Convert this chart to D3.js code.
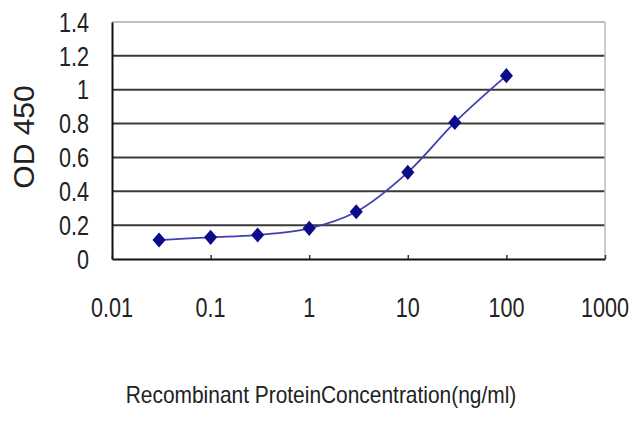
<!DOCTYPE html>
<html><head><meta charset="utf-8">
<script src="https://cdn.jsdelivr.net/npm/d3@7"></script>
<style>
html,body{margin:0;padding:0;background:#fff;}
svg{display:block;}
text{font-family:"Liberation Sans",Arial,sans-serif;fill:#222;}
</style></head>
<body>
<svg id="c" width="640" height="427"></svg>
<script>
// Data
const concentrations = [0.03, 0.1, 0.3, 1, 3, 10, 30, 100];
const odValues = [0.112, 0.128, 0.142, 0.181, 0.279, 0.512, 0.807, 1.083];
const xTicks = [0.01, 0.1, 1, 10, 100, 1000];
const xTickLabels = ["0.01", "0.1", "1", "10", "100", "1000"];
const yTicks = [0, 0.2, 0.4, 0.6, 0.8, 1, 1.2, 1.4];
const yTickLabels = ["0", "0.2", "0.4", "0.6", "0.8", "1", "1.2", "1.4"];
const xTitle = "Recombinant ProteinConcentration(ng/ml)";
const yTitle = "OD 450";

const svg = d3.select("#c");
const L = 112, R = 605, T = 22, B = 259;
const x = d3.scaleLog().domain([0.01, 1000]).range([L, R]);
const y = d3.scaleLinear().domain([0, 1.4]).range([B, T]);

// gridlines
svg.append("g").selectAll("line").data(yTicks.filter(d => d > 0)).join("line")
  .attr("x1", L).attr("x2", R).attr("y1", d => y(d)).attr("y2", d => y(d))
  .attr("stroke", d => d === 1.4 ? "#aaa" : "#3a3a3a").attr("stroke-width", d => d === 1.4 ? 1.5 : 2);
// right border
svg.append("line").attr("x1", R).attr("x2", R).attr("y1", T).attr("y2", B)
  .attr("stroke", "#bbb").attr("stroke-width", 1.5);

// axes
const xAxis = d3.axisBottom(x).tickValues(xTicks).tickFormat("").tickSizeInner(-4).tickSizeOuter(0);
const gx = svg.append("g").attr("transform", `translate(0,${B})`).call(xAxis);
gx.select(".domain").attr("stroke", "#111").attr("stroke-width", 2);
gx.selectAll(".tick line").attr("stroke", "#333").attr("stroke-width", 1.5);

const yAxis = d3.axisLeft(y).tickValues(yTicks).tickFormat("").tickSize(0);
const gy = svg.append("g").attr("transform", `translate(${L},0)`).call(yAxis);
gy.select(".domain").attr("stroke", "#111").attr("stroke-width", 2);

// y tick labels (condensed look)
svg.append("g").selectAll("text").data(yTicks).join("text")
  .attr("transform", d => `translate(89,${y(d)}) scale(0.8,1)`)
  .attr("text-anchor", "end").attr("dy", "0.36em")
  .attr("font-size", 27)
  .text((d, i) => yTickLabels[i]);

// x tick labels
svg.append("g").selectAll("text").data(xTicks).join("text")
  .attr("transform", d => `translate(${x(d)},${307}) scale(0.8,1)`)
  .attr("text-anchor", "middle").attr("dy", "0.36em")
  .attr("font-size", 27)
  .text((d, i) => xTickLabels[i]);

// titles
svg.append("text").attr("transform", "translate(321,395) scale(0.91,1)")
  .attr("text-anchor", "middle").attr("dy", "0.36em").attr("font-size", 23)
  .text(xTitle);
svg.append("text").attr("transform", "translate(23,137) rotate(-90)")
  .attr("text-anchor", "middle").attr("dy", "0.36em").attr("font-size", 30)
  .text(yTitle);

// line
const pts = concentrations.map((c, i) => [x(c), y(odValues[i])]);
svg.append("path").datum(pts)
  .attr("d", d3.line().curve(d3.curveCatmullRom.alpha(0.5)))
  .attr("fill", "none").attr("stroke", "#4040b0").attr("stroke-width", 1.8);

// markers
svg.append("g").selectAll("path").data(pts).join("path")
  .attr("transform", d => `translate(${d[0]},${d[1]}) scale(1,1.15)`)
  .attr("d", d3.symbol(d3.symbolDiamond2, 110)())
  .attr("fill", "#0c0c8a");
</script>
</body></html>
